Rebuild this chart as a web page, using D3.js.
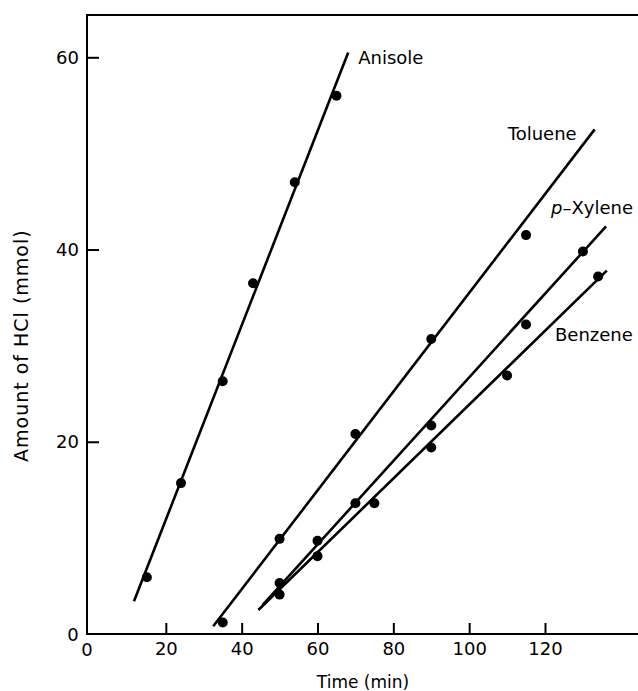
<!DOCTYPE html>
<html>
<head>
<meta charset="utf-8">
<script src="https://cdn.jsdelivr.net/npm/d3@7"></script>
<style>
  body { margin: 0; background: #fff; }
  svg text { font-family: "DejaVu Sans", sans-serif; fill: #000; }
</style>
</head>
<body>
<div id="chart"></div>
<script>
// values
const anisoleT = [15, 24, 35, 43, 54, 65];
const anisoleHCl = [5.9, 15.7, 26.3, 36.5, 47.0, 56.0];
const tolueneT = [35, 50, 70, 90, 115];
const tolueneHCl = [1.2, 9.9, 20.8, 30.7, 41.5];
const xyleneT = [50, 60, 70, 90, 115, 130];
const xyleneHCl = [5.3, 9.7, 13.6, 21.7, 32.2, 39.8];
const benzeneT = [50, 60, 75, 90, 110, 134];
const benzeneHCl = [4.1, 8.1, 13.6, 19.4, 26.9, 37.2];

// drawn straight lines: [t start, HCl start, t end, HCl end]
const anisoleFit = [11.6, 3.4, 68.1, 60.5];
const tolueneFit = [32.5, 0.8, 133.1, 52.5];
const xyleneFit = [45.5, 3.0, 136.1, 42.4];
const benzeneFit = [44.4, 2.5, 136.3, 37.8];

const xTicks = [20, 40, 60, 80, 100, 120];
const yTicks = [20, 40, 60];

const series = [
  { name: "Anisole", t: anisoleT, v: anisoleHCl, fit: anisoleFit },
  { name: "Toluene", t: tolueneT, v: tolueneHCl, fit: tolueneFit },
  { name: "p-Xylene", t: xyleneT, v: xyleneHCl, fit: xyleneFit },
  { name: "Benzene", t: benzeneT, v: benzeneHCl, fit: benzeneFit }
];

const width = 638, height = 691;
const svg = d3.select("#chart").append("svg")
  .attr("width", width).attr("height", height);

const x = d3.scaleLinear().domain([0, 120]).range([90, 545]);
const y = d3.scaleLinear().domain([0, 60]).range([634, 57.3]);

const frameL = x(0) - 3, frameT = 15, frameR = width, frameB = y(0);

// frame (left, top, bottom)
svg.append("path")
  .attr("d", `M${frameR},${frameT}H${frameL}V${frameB}H${frameR}`)
  .attr("fill", "none").attr("stroke", "#000").attr("stroke-width", 2);

const xAxis = d3.axisBottom(x).tickValues(xTicks).tickSize(-11).tickPadding(8);
const gx = svg.append("g").attr("transform", `translate(0,${frameB})`).call(xAxis);
gx.select(".domain").remove();
gx.selectAll(".tick line").attr("stroke-width", 2);
gx.selectAll("text").style("font-size", "18px");

const yAxis = d3.axisLeft(y).tickValues(yTicks).tickSize(-12).tickPadding(8);
const gy = svg.append("g").attr("transform", `translate(${frameL},0)`).call(yAxis);
gy.select(".domain").remove();
gy.selectAll(".tick line").attr("stroke-width", 2);
gy.selectAll("text").style("font-size", "18px");

// origin zeros
svg.append("text").attr("x", frameL - 14).attr("y", y(0) + 6.5)
  .attr("text-anchor", "middle").style("font-size", "18px").text("0");
svg.append("text").attr("x", frameL).attr("y", y(0) + 22)
  .attr("text-anchor", "middle").style("font-size", "18px").text("0");

// axis titles
svg.append("text").attr("x", 363).attr("y", 688)
  .attr("text-anchor", "middle").style("font-size", "17px").text("Time (min)");
svg.append("text")
  .attr("transform", `translate(28,${y(30)}) rotate(-90)`)
  .attr("text-anchor", "middle").style("font-size", "19px")
  .style("letter-spacing", "1px").text("Amount of HCl (mmol)");

// fitted lines
svg.selectAll("line.fit").data(series).enter().append("line")
  .attr("class", "fit")
  .attr("x1", d => x(d.fit[0])).attr("y1", d => y(d.fit[1]))
  .attr("x2", d => x(d.fit[2])).attr("y2", d => y(d.fit[3]))
  .attr("stroke", "#000").attr("stroke-width", 2.6);

// points
series.forEach(s => {
  svg.selectAll(null).data(d3.zip(s.t, s.v)).enter().append("circle")
    .attr("cx", d => x(d[0])).attr("cy", d => y(d[1]))
    .attr("r", 5).attr("fill", "#000");
});

// line labels, placed next to the upper end of each line
const labelPos = {
  "Anisole": { dx: 10, dy: 11.5, anchor: "start" },
  "Toluene": { dx: -18, dy: 10.5, anchor: "end" },
  "p-Xylene": { dx: 27, dy: -12.5, anchor: "end" },
  "Benzene": { dx: 26, dy: 70, anchor: "end" }
};
series.forEach(s => {
  const p = labelPos[s.name];
  const t = svg.append("text")
    .attr("x", x(s.fit[2]) + p.dx).attr("y", y(s.fit[3]) + p.dy)
    .attr("text-anchor", p.anchor).style("font-size", "18px");
  if (s.name === "p-Xylene") {
    t.append("tspan").style("font-style", "italic").text("p");
    t.append("tspan").text("\u2013Xylene");
  } else {
    t.text(s.name);
  }
});
</script>
</body>
</html>
